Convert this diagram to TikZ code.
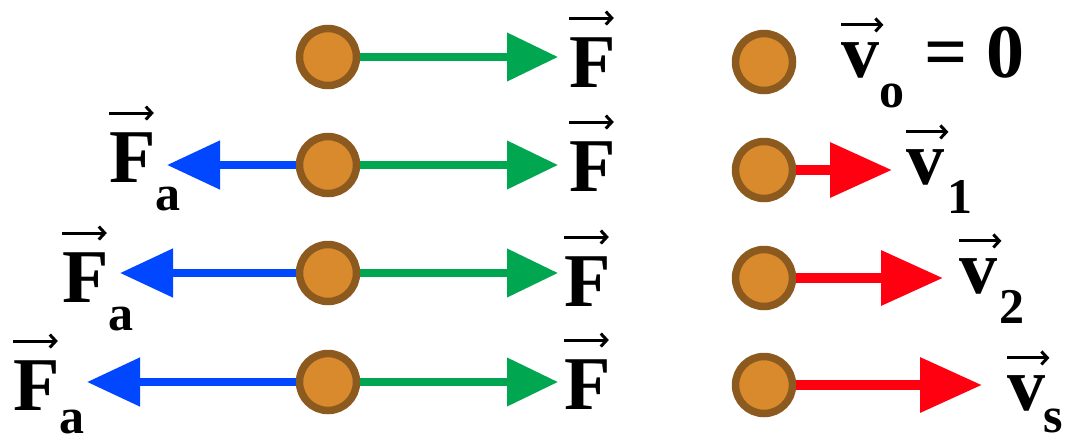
\documentclass[tikz,border=0pt]{standalone}
\usepackage{fontspec}
\setmainfont{Liberation Serif}
\usetikzlibrary{arrows.meta,positioning}

\definecolor{ballfill}{HTML}{D88A2D}
\definecolor{balldraw}{HTML}{8C5A1E}
\definecolor{forcegreen}{HTML}{00A650}
\definecolor{fricblue}{HTML}{0047FF}
\definecolor{velred}{HTML}{FF0010}

\tikzset{
  ball/.style={circle,fill=ballfill,draw=balldraw,line width=7.5pt,minimum size=57pt,inner sep=0pt},
  big/.style={inner sep=0pt,anchor=base west,font=\bfseries\fontsize{76}{76}\selectfont},
  small/.style={inner sep=0pt,anchor=base west,font=\bfseries\fontsize{50}{50}\selectfont},
  greenarr/.style={draw=forcegreen,line width=7.5pt,-{Triangle[length=51pt,width=47pt]}},
  bluearr/.style={draw=fricblue,line width=8pt,-{Triangle[length=53pt,width=47pt]}},
  redarr/.style={draw=velred,line width=10pt,-{Triangle[length=62pt,width=53pt]}},
  vecarr/.style={draw,line width=3pt,-{Straight Barb[length=6pt,width=13pt]}}
}

\begin{document}
\begin{tikzpicture}[x=1pt,y=-1pt]
  \useasboundingbox (0,0) rectangle (1065,445);

  % balls, left column
  \node[ball] (b1) at (328,57)  {};
  \node[ball] (b2) at (328,165) {};
  \node[ball] (b3) at (328,273) {};
  \node[ball] (b4) at (328,382) {};
  % balls, right column
  \node[ball] (c1) at (764,62)  {};
  \node[ball] (c2) at (764,170) {};
  \node[ball] (c3) at (764,278) {};
  \node[ball] (c4) at (764,385) {};

  % arrow tips
  \coordinate (g1) at (558,57);
  \coordinate (g2) at (558,165);
  \coordinate (g3) at (558,273);
  \coordinate (g4) at (558,382);
  \coordinate (f2) at (167,165);
  \coordinate (f3) at (120,273);
  \coordinate (f4) at (87,382);
  \coordinate (v2) at (892,170);
  \coordinate (v3) at (943,278);
  \coordinate (v4) at (982,385);

  \path (b1) edge [greenarr] (g1)
        (b2) edge [greenarr] (g2)
        (b3) edge [greenarr] (g3)
        (b4) edge [greenarr] (g4)
        (b2) edge [bluearr]  (f2)
        (b3) edge [bluearr]  (f3)
        (b4) edge [bluearr]  (f4)
        (c2) edge [redarr]   (v2)
        (c3) edge [redarr]   (v3)
        (c4) edge [redarr]   (v4);

  % force labels
  \node[big] (F1) at (569,87)  {F};
  \node[big] (F2) at (569,191) {F};
  \node[big] (F3) at (564,306) {F};
  \node[big] (F4) at (564,409) {F};
  \node[big] (Fa2) at (109,182) {F};
  \node[big] (Fa3) at (62,302)  {F};
  \node[big] (Fa4) at (13,410)  {F};
  \node[small] (a2) at ([xshift=-1pt,yshift=-28pt]Fa2.base east) {a};
  \node[small] (a3) at ([xshift=-1pt,yshift=-28pt]Fa3.base east) {a};
  \node[small] (a4) at ([xshift=-1pt,yshift=-23pt]Fa4.base east) {a};

  % velocity labels
  \node[big] (V1) at (841,77)   {v};
  \node[big] (V2) at (906,184)  {v};
  \node[big] (V3) at (959,293)  {v};
  \node[big] (V4) at (1007,410) {v};
  \node[small] (o1) at ([yshift=-30pt]V1.base east) {o};
  \node[small] (n2) at ([xshift=3pt,yshift=-29pt]V2.base east) {1};
  \node[small] (n3) at ([xshift=2pt,yshift=-30pt]V3.base east) {2};
  \node[small] (s4) at ([xshift=-2pt,yshift=-22pt]V4.base east) {s};
  \node[big] (eq) at (924,77) {= 0};

  % vector arrows
  \foreach \n in {F1,F2,F3,F4,Fa2,Fa3,Fa4}
    \draw[vecarr] ([yshift=19pt]\n.north west) -- ([xshift=-2pt,yshift=19pt]\n.north east);
  \foreach \n in {V1,V2,V3,V4}
    \draw[vecarr] ([yshift=17pt]\n.north west) -- ([xshift=4pt,yshift=17pt]\n.north east);
\end{tikzpicture}
\end{document}
